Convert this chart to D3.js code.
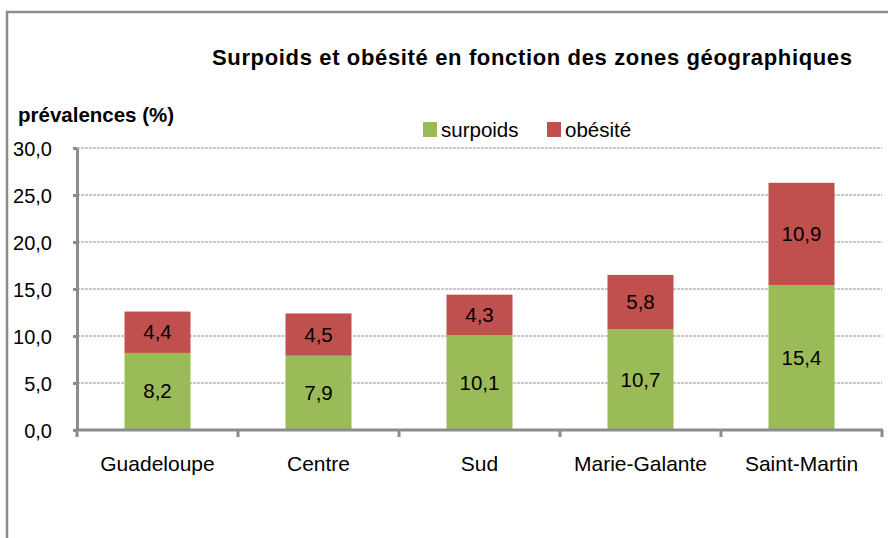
<!DOCTYPE html>
<html>
<head>
<meta charset="utf-8">
<title>surpoids</title>
<script src="https://d3js.org/d3.v7.min.js"></script>
<style>
    body { margin: 0; background: #fff; }
    svg text { font-family: "Liberation Sans", Arial, sans-serif; fill: #000; }
    .grid line { stroke: #c8c8c8; stroke-width: 2; stroke-dasharray: 3 1; }
    .axis path, .axis line { stroke: #8c8c8c; stroke-width: 3; }
</style>
</head>
<body>
<svg id="chart" width="888" height="538"></svg>
<script>
const zones = ['Guadeloupe', 'Centre', 'Sud', 'Marie-Galante', 'Saint-Martin'];
const surpoids = [8.2, 7.9, 10.1, 10.7, 15.4];
const obesite = [4.4, 4.5, 4.3, 5.8, 10.9];
const yTicks = [0, 5, 10, 15, 20, 25, 30];
const seriesNames = ['surpoids', 'obésité'];
const colors = ['#9bbb59', '#c0504d'];

const svg = d3.select('#chart');
const fmt = v => d3.format('.1f')(v).replace('.', ',');

// cadre extérieur
svg.append('rect')
    .attr('x', 7).attr('y', 12)
    .attr('width', 950).attr('height', 600)
    .attr('fill', 'none').attr('stroke', '#8c8c8c').attr('stroke-width', 2.5);

const mLeft = 77, mRight = 882, mTop = 148, mBottom = 430;

let x = d3.scaleBand().domain(zones).range([mLeft, mRight]).paddingInner(0).paddingOuter(0);
let y = d3.scaleLinear().domain([0, 30]).range([mBottom, mTop]);

// grille
svg.append('g').attr('class', 'grid')
    .selectAll('line').data(yTicks.slice(1)).enter()
    .append('line')
    .attr('x1', mLeft).attr('x2', mRight)
    .attr('y1', d => y(d)).attr('y2', d => y(d));

let rows = zones.map((z, i) => ({ zone: z, surpoids: surpoids[i], obesite: obesite[i] }));
let stacked = d3.stack().keys(['surpoids', 'obesite'])(rows);

let bw = x.bandwidth() * 0.41;
let layers = svg.append('g').selectAll('g').data(stacked).enter()
    .append('g').attr('fill', (d, i) => colors[i]);

layers.selectAll('rect').data(d => d).enter()
    .append('rect')
    .attr('x', d => x(d.data.zone) + (x.bandwidth() - bw) / 2)
    .attr('width', bw)
    .attr('y', d => y(d[1]))
    .attr('height', d => y(d[0]) - y(d[1]));

layers.selectAll('text').data(d => d).enter()
    .append('text')
    .attr('x', d => x(d.data.zone) + x.bandwidth() / 2)
    .attr('y', d => (y(d[0]) + y(d[1])) / 2 + 7)
    .attr('text-anchor', 'middle')
    .style('font-size', '20.5px')
    .text(d => fmt(d[1] - d[0]));

// axe y
let yAxis = svg.append('g').attr('class', 'axis')
    .attr('transform', 'translate(' + mLeft + ',0)')
    .call(d3.axisLeft(y).tickValues(yTicks).tickSize(4).tickSizeOuter(0).tickFormat(fmt));
yAxis.selectAll('text').style('font-size', '20px').attr('x', -25).attr('dy', '0.35em');

// axe x
let xTickPos = d3.range(zones.length + 1).map(i => mLeft + i * x.step());
let xAxis = svg.append('g').attr('class', 'axis');
xAxis.append('line').attr('x1', mLeft - 2).attr('x2', mRight + 1).attr('y1', mBottom).attr('y2', mBottom);
xAxis.selectAll('line.t').data(xTickPos).enter()
    .append('line').attr('class', 't')
    .attr('x1', d => d).attr('x2', d => d)
    .attr('y1', mBottom).attr('y2', mBottom + 7);
svg.append('g').selectAll('text').data(zones).enter()
    .append('text')
    .attr('x', d => x(d) + x.bandwidth() / 2)
    .attr('y', 471)
    .attr('text-anchor', 'middle')
    .style('font-size', '21px')
    .text(d => d);

// titre
svg.append('text')
    .attr('x', 532).attr('y', 65)
    .attr('text-anchor', 'middle')
    .attr('textLength', 640).attr('lengthAdjust', 'spacing')
    .style('font-size', '22px').style('font-weight', 'bold')
    .text('Surpoids et obésité en fonction des zones géographiques');

svg.append('text')
    .attr('x', 18).attr('y', 122)
    .style('font-size', '20.5px').style('font-weight', 'bold')
    .text('prévalences (%)');

// légende
let legendX = [423, 547];
let lg = svg.append('g').selectAll('g').data(seriesNames).enter()
    .append('g').attr('transform', (d, i) => 'translate(' + legendX[i] + ',122)');
lg.append('rect').attr('width', 14).attr('height', 15).attr('fill', (d, i) => colors[i]);
lg.append('text').attr('x', 18).attr('y', 15).style('font-size', '20.5px').text(d => d);
</script>
</body>
</html>
